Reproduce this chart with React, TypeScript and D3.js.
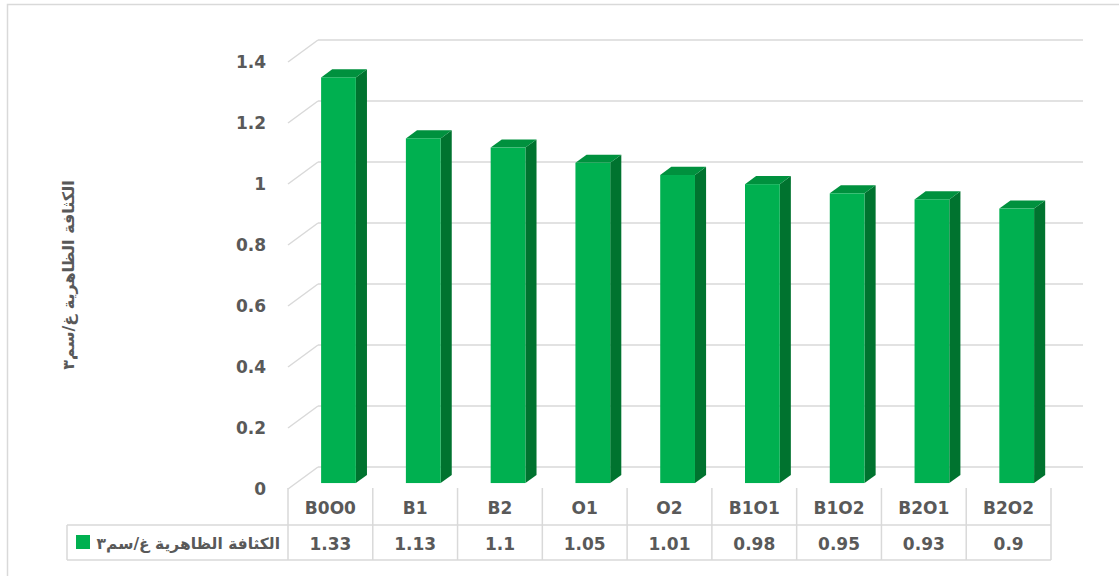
import React from "react";
import * as d3 from "d3";

const categories = ["B0O0", "B1", "B2", "O1", "O2", "B1O1", "B1O2", "B2O1", "B2O2"];
const values = [1.33, 1.13, 1.1, 1.05, 1.01, 0.98, 0.95, 0.93, 0.9];
const valueLabels = ["1.33", "1.13", "1.1", "1.05", "1.01", "0.98", "0.95", "0.93", "0.9"];
const yTicks = [0, 0.2, 0.4, 0.6, 0.8, 1, 1.2, 1.4];
const seriesName = "الكثافة الظاهرية غ/سم٣";
const axisTitle = "الكثافة الظاهرية غ/سم٣";

const W = 1119;
const H = 576;
const FRONT_LEFT = 288;
const FRONT_RIGHT = 1051;
const FRONT_BOTTOM = 489;
const FRONT_TOP = 62;
const DX = 30;
const DY = -22;
const F1 = 0.27;
const F2 = 0.64;

const grid = "#D9D9D9";
const textColor = "#595959";
const font = "'DejaVu Sans', sans-serif";

export default function App() {
  const x = d3
    .scaleBand<string>()
    .domain(categories)
    .range([FRONT_LEFT, FRONT_RIGHT])
    .paddingInner(0.59)
    .paddingOuter(0.295);
  const cell = d3.scaleBand<string>().domain(categories).range([FRONT_LEFT, FRONT_RIGHT]);
  const y = d3.scaleLinear().domain([0, 1.4]).range([FRONT_BOTTOM, FRONT_TOP]);

  const tableTop = 488;
  const rowMid = 525;
  const tableBottom = 560;
  const legendLeft = 67;

  return (
    <div style={{ position: "absolute", left: 0, top: 0 }}>
      <svg width={W} height={H} style={{ display: "block" }}>
        <rect x={0} y={0} width={W} height={H} fill="#fff" />
        <rect x={7.5} y={4.5} width={1300} height={700} fill="none" stroke={grid} strokeWidth={1.5} />

        {/* back wall gridlines and side wall diagonals */}
        {yTicks.map((t) => (
          <g key={t}>
            <line
              x1={FRONT_LEFT + DX}
              x2={FRONT_RIGHT + DX + 2}
              y1={y(t) + DY}
              y2={y(t) + DY}
              stroke={grid}
              strokeWidth={1.5}
            />
            <line
              x1={FRONT_LEFT}
              x2={FRONT_LEFT + DX}
              y1={y(t)}
              y2={y(t) + DY}
              stroke={grid}
              strokeWidth={1.5}
            />
            <text
              x={266}
              y={y(t)}
              textAnchor="end"
              dominantBaseline="central"
              fontFamily={font}
              fontWeight="bold"
              fontSize={17}
              fill={textColor}
            >
              {String(t)}
            </text>
          </g>
        ))}

        {/* bars */}
        {categories.map((c, i) => {
          const x0 = (x(c) as number) + F1 * DX;
          const x1 = x0 + x.bandwidth();
          const yb = FRONT_BOTTOM + F1 * DY;
          const yt = y(values[i]) + F1 * DY;
          const ddx = (F2 - F1) * DX;
          const ddy = (F2 - F1) * DY;
          return (
            <g key={c}>
              <polygon
                points={`${x1},${yt} ${x1 + ddx},${yt + ddy} ${x1 + ddx},${yb + ddy} ${x1},${yb}`}
                fill="#00732F"
              />
              <polygon
                points={`${x0},${yt} ${x1},${yt} ${x1 + ddx},${yt + ddy} ${x0 + ddx},${yt + ddy}`}
                fill="#00913E"
              />
              <rect x={x0} y={yt} width={x1 - x0} height={yb - yt} fill="#00B050" />
            </g>
          );
        })}

        {/* data table */}
        {categories.map((c, i) => {
          const cx = (cell(c) as number) + cell.bandwidth() / 2;
          return (
            <g key={"t" + c}>
              <text
                x={cx}
                y={(tableTop + rowMid) / 2 + 1}
                textAnchor="middle"
                dominantBaseline="central"
                fontFamily={font}
                fontWeight="bold"
                fontSize={17}
                fill={textColor}
              >
                {c}
              </text>
              <text
                x={cx}
                y={(rowMid + tableBottom) / 2 + 1}
                textAnchor="middle"
                dominantBaseline="central"
                fontFamily={font}
                fontWeight="bold"
                fontSize={17}
                fill={textColor}
              >
                {valueLabels[i]}
              </text>
            </g>
          );
        })}
        {d3.range(categories.length + 1).map((k) => {
          const xx = FRONT_LEFT + k * cell.step();
          return (
            <line key={"v" + k} x1={xx} x2={xx} y1={tableTop} y2={tableBottom} stroke={grid} strokeWidth={1.5} />
          );
        })}
        <line x1={legendLeft} x2={FRONT_RIGHT} y1={rowMid} y2={rowMid} stroke={grid} strokeWidth={1.5} />
        <line x1={legendLeft} x2={FRONT_RIGHT} y1={tableBottom} y2={tableBottom} stroke={grid} strokeWidth={1.5} />
        <line x1={legendLeft} x2={legendLeft} y1={rowMid} y2={tableBottom} stroke={grid} strokeWidth={1.5} />
        <rect x={76} y={535} width={14} height={14} fill="#00B050" />
        <text
          x={280}
          y={(rowMid + tableBottom) / 2 + 1}
          textAnchor="end"
          dominantBaseline="central"
          fontFamily={font}
          fontWeight="bold"
          fontSize={15.5}
          fill={textColor}
        >
          {seriesName}
        </text>

        {/* y axis title */}
        <text
          transform={`translate(68, 275) rotate(-90)`}
          textAnchor="middle"
          dominantBaseline="central"
          fontFamily={font}
          fontWeight="bold"
          fontSize={16}
          fill={textColor}
        >
          {axisTitle}
        </text>
      </svg>
    </div>
  );
}
